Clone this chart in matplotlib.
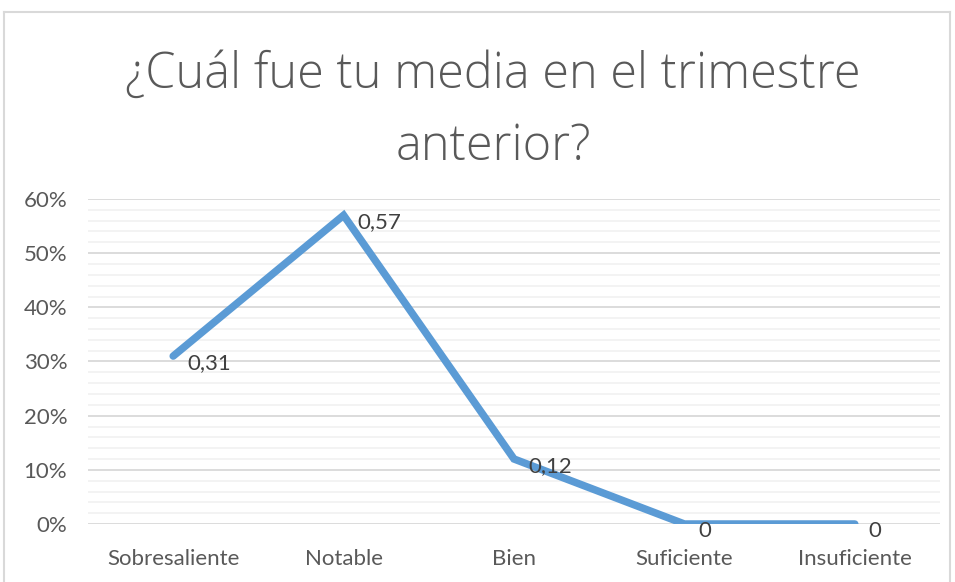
import matplotlib.pyplot as plt
from matplotlib.lines import Line2D
from matplotlib.ticker import MultipleLocator, PercentFormatter

plt.rcParams['font.family'] = ['Lato', 'DejaVu Sans']

categorias = ['Sobresaliente', 'Notable', 'Bien', 'Suficiente', 'Insuficiente']
valores = [0.31, 0.57, 0.12, 0.0, 0.0]
etiquetas = ['0,31', '0,57', '0,12', '0', '0']

fig = plt.figure(figsize=(9.55, 5.82), dpi=100)
ax = fig.add_axes([88 / 955, 58 / 582, 852 / 955, 325 / 582])

x = range(len(categorias))
ax.plot(x, valores, color='#5b9bd5', linewidth=5.4, solid_capstyle='round',
        solid_joinstyle='miter', zorder=3)
for xi, v, t in zip(x, valores, etiquetas):
    ax.annotate(t, (xi, v), xytext=(10, -5), textcoords='offset points',
                ha='left', va='center', fontsize=16, color='#404040', zorder=4)

ax.set_xlim(-0.5, len(categorias) - 0.5)
ax.set_ylim(0, 0.6)
ax.yaxis.set_major_locator(MultipleLocator(0.1))
ax.yaxis.set_minor_locator(MultipleLocator(0.02))
ax.yaxis.set_major_formatter(PercentFormatter(1.0, decimals=0))
ax.grid(axis='y', which='major', color='#d9d9d9', linewidth=1.3, zorder=0)
ax.grid(axis='y', which='minor', color='#f2f2f2', linewidth=1.3, zorder=0)
ax.set_xticks(list(x))
ax.set_xticklabels(categorias)
ax.tick_params(axis='both', which='both', length=0, labelsize=16, colors='#595959')
ax.tick_params(axis='y', pad=15)
ax.tick_params(axis='x', pad=18)
for s in ax.spines.values():
    s.set_visible(False)

fig.text(493 / 955, 1 - 111 / 582, '¿Cuál fue tu media en el trimestre\nanterior?',
         ha='center', va='center', fontsize=35, family=['Open Sans', 'Lato'],
         fontweight=300, color='#595959', linespacing=1.58)

# marco del gráfico
borde = dict(color='#d9d9d9', linewidth=1.5)
fig.add_artist(Line2D([4 / 955, 4 / 955], [0, 1 - 12 / 582], **borde))
fig.add_artist(Line2D([4 / 955, 950 / 955], [1 - 12 / 582, 1 - 12 / 582], **borde))
fig.add_artist(Line2D([950 / 955, 950 / 955], [0, 1 - 12 / 582], **borde))

fig.savefig('out.png', dpi=100)
